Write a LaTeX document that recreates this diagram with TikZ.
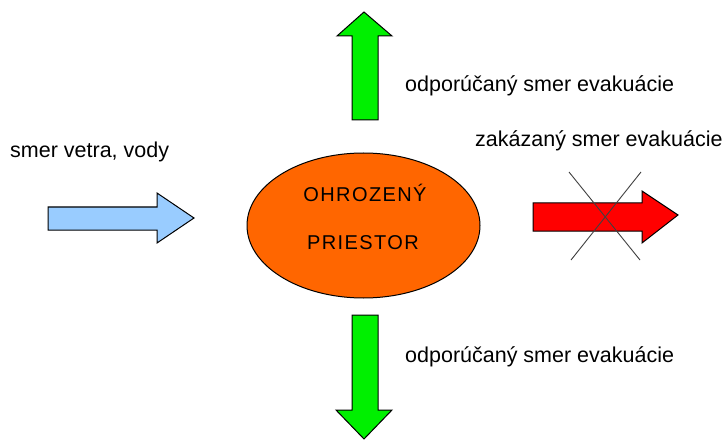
\documentclass[tikz,border=0pt]{standalone}
\usepackage{fontspec}
\setmainfont{Liberation Sans}
\newfontfamily\ellfont[LetterSpace=7]{Liberation Sans}
\usetikzlibrary{shapes.geometric}
\definecolor{arrgreen}{HTML}{00F000}
\definecolor{arrblue}{HTML}{99CCFF}
\definecolor{ellorange}{HTML}{FF6600}
\definecolor{arrred}{HTML}{FF0000}
\definecolor{crossgray}{HTML}{404040}
\tikzset{
  blockarrow/.style={draw=black, line width=1pt, line join=miter},
  lbl/.style={anchor=base west, inner sep=0pt, font=\fontsize{21.5}{24}\selectfont, text=black},
  elltext/.style={anchor=base, inner sep=0pt, font=\ellfont\fontsize{20}{24}\selectfont, text=black},
  crossline/.style={draw=crossgray, line width=0.9pt}
}
\begin{document}
\begin{tikzpicture}[x=1pt,y=-1pt]
\useasboundingbox (0,0) rectangle (726,441);
\fill[white] (0,0) rectangle (726,441);
% up arrow
\draw[blockarrow, fill=arrgreen] (352,120) -- (352,36) -- (337,36) -- (364,12) -- (392,36) -- (378,36) -- (378,120) -- cycle;
% down arrow
\draw[blockarrow, fill=arrgreen] (352,315) -- (352,410) -- (336,410) -- (364,439) -- (392,410) -- (378,410) -- (378,315) -- cycle;
% blue arrow
\draw[blockarrow, fill=arrblue] (48,207) -- (157,207) -- (157,193) -- (194,218) -- (157,243) -- (157,230) -- (48,230) -- cycle;
% red arrow
\draw[blockarrow, fill=arrred] (533,203) -- (642,203) -- (642,191) -- (678,215) -- (642,243) -- (642,231) -- (533,231) -- cycle;
% cross
\coordinate (c1a) at (569,172);
\coordinate (c1b) at (640,260);
\coordinate (c2a) at (641,172);
\coordinate (c2b) at (571,260);
\draw[crossline] (c1a) -- (c1b);
\draw[crossline] (c2a) -- (c2b);
% ellipse
\node[ellipse, draw=black, line width=1pt, fill=ellorange, minimum width=233pt, minimum height=145pt, inner sep=0pt] (area) at (363.5,225.5) {};
\node[elltext] (t1) at (365,201) {OHROZENÝ};
\node[elltext] (t2) at (363,249) {PRIESTOR};
% labels
\node[lbl] (lup) at (405,92) {odporúčaný smer evakuácie};
\node[lbl] (ldown) at (405,362) {odporúčaný smer evakuácie};
\node[lbl] (lwind) at (10,158) {smer vetra, vody};
\node[lbl] (lforb) at (475,147) {zakázaný smer evakuácie};
\end{tikzpicture}
\end{document}
